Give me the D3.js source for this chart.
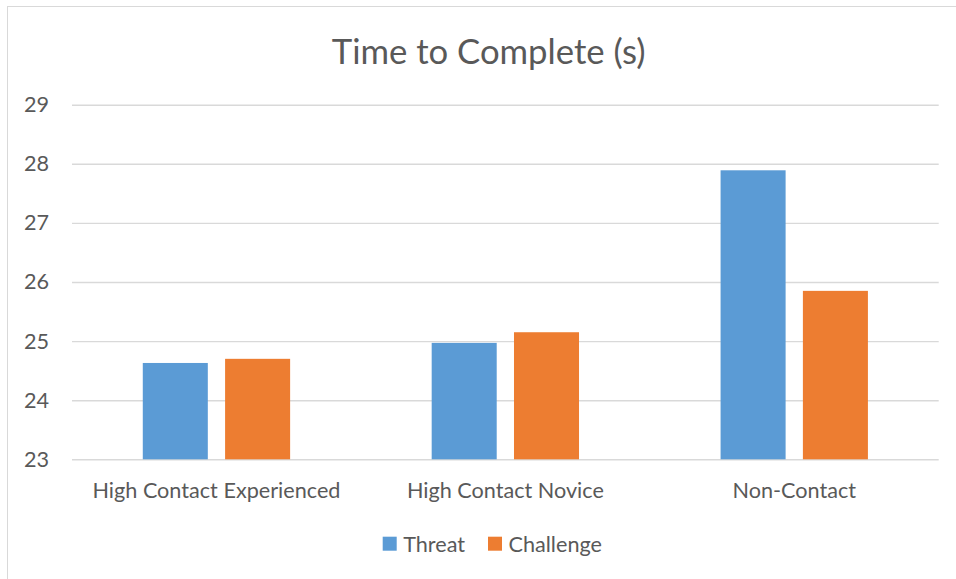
<!DOCTYPE html>
<html>
<head>
<meta charset="utf-8">
<script src="https://cdn.jsdelivr.net/npm/d3@7"></script>
<style>
html,body{margin:0;padding:0;background:#fff;}
svg{display:block;}
text{font-family:Lato,"Open Sans",sans-serif;fill:#595959;}
</style>
</head>
<body>
<svg id="chart" width="956" height="579"></svg>
<script>
const title = "Time to Complete (s)";
const categories = ["High Contact Experienced", "High Contact Novice", "Non-Contact"];
const seriesNames = ["Threat", "Challenge"];
const threatValues = [24.63, 24.97, 27.89];
const challengeValues = [24.70, 25.15, 25.85];
const yTicks = [23, 24, 25, 26, 27, 28, 29];
const colors = ["#5B9BD5", "#ED7D31"];

const seriesValues = [threatValues, challengeValues];
const data = categories.map((c, i) => ({
  category: c,
  values: seriesNames.map((s, j) => ({ series: s, value: seriesValues[j][i], idx: j }))
}));

const svg = d3.select("#chart");
const plot = { left: 72, right: 938.7, top: 104.7, bottom: 459.3 };

// chart border
svg.append("rect").attr("x", 7.5).attr("y", 6.5).attr("width", 1000).attr("height", 1000)
  .attr("fill", "none").attr("stroke", "#D9D9D9").attr("stroke-width", 1);

const y = d3.scaleLinear().domain([23, 29]).range([plot.bottom, plot.top]);
const x0 = d3.scaleBand().domain(categories).range([plot.left, plot.right])
  .paddingInner(0.49).paddingOuter(0.245);
const x1 = d3.scaleBand().domain(seriesNames).range([0, x0.bandwidth()])
  .paddingInner(0.21).paddingOuter(0);

function fitSize(text, target, base) {
  const t = svg.append("text").attr("font-size", base).text(text);
  const w = t.node().getComputedTextLength();
  t.remove();
  return base * target / w;
}
const titleSize = fitSize(title, 314, 30);
const labelSize = fitSize(categories[0], 248, 20);

// gridlines + y labels
const yAxis = d3.axisLeft(y).tickValues(yTicks).tickSize(-(plot.right - plot.left)).tickPadding(23)
  .tickFormat(d3.format("d"));
const gy = svg.append("g").attr("transform", `translate(${plot.left},0)`).call(yAxis);
gy.select(".domain").remove();
gy.selectAll(".tick line").attr("stroke", "#D9D9D9").attr("stroke-width", 1.4);
gy.selectAll(".tick text").attr("font-size", labelSize).attr("fill", "#595959")
  .style("font-family", "Lato, 'Open Sans', sans-serif");

// bars
const groups = svg.append("g").selectAll("g").data(data).join("g")
  .attr("transform", d => `translate(${x0(d.category)},0)`);
groups.selectAll("rect").data(d => d.values).join("rect")
  .attr("x", d => x1(d.series))
  .attr("y", d => y(d.value))
  .attr("width", x1.bandwidth())
  .attr("height", d => y(23) - y(d.value))
  .attr("fill", d => colors[d.idx]);

// x axis category labels
const xAxis = d3.axisBottom(x0).tickSize(0).tickPadding(23);
const gx = svg.append("g").attr("transform", `translate(0,${plot.bottom})`).call(xAxis);
gx.select(".domain").remove();
gx.selectAll(".tick text").attr("font-size", labelSize).attr("fill", "#595959")
  .style("font-family", "Lato, 'Open Sans', sans-serif");

// title
svg.append("text").attr("x", 488.7).attr("y", 63.5)
  .attr("text-anchor", "middle").attr("font-size", titleSize).text(title);

// legend
const legendX = [382.7, 488];
const legend = svg.append("g");
seriesNames.forEach((s, i) => {
  legend.append("rect").attr("x", legendX[i]).attr("y", 536.7).attr("width", 14).attr("height", 14)
    .attr("fill", colors[i]);
  legend.append("text").attr("x", legendX[i] + 20.5).attr("y", 551.5)
    .attr("font-size", labelSize).text(s);
});
</script>
</body>
</html>
